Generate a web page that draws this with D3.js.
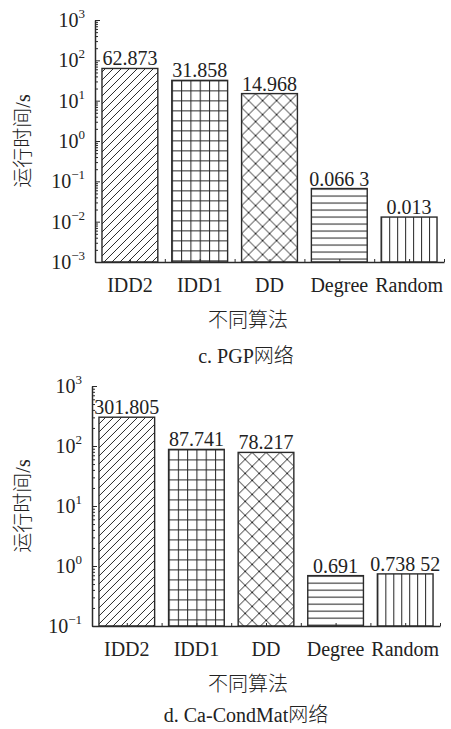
<!DOCTYPE html>
<html>
<head>
<meta charset="utf-8">
<script src="https://cdn.jsdelivr.net/npm/d3@7"></script>
<style>
  html, body { margin: 0; padding: 0; background: #fff; }
  svg { display: block; }
  text { font-family: "Liberation Serif", "Noto Sans CJK SC", serif; fill: #222; }
  text.cjk { font-weight: 300; }
</style>
</head>
<body>
<svg id="chart" width="451" height="729"></svg>
<script>
// ---------- data ----------
const categories = ["IDD2", "IDD1", "DD", "Degree", "Random"];
const pgpValues = [62.873, 31.858, 14.968, 0.0663, 0.013];
const pgpLabels = ["62.873", "31.858", "14.968", "0.066 3", "0.013"];
const caValues = [301.805, 87.741, 78.217, 0.691, 0.73852];
const caLabels = ["301.805", "87.741", "78.217", "0.691", "0.738 52"];
const pgpTickExps = [-3, -2, -1, 0, 1, 2, 3];
const caTickExps = [-1, 0, 1, 2, 3];
const yTitle = "运行时间/s";
const xTitle = "不同算法";
const pgpCaption = "c. PGP网络";
const caCaption = "d. Ca-CondMat网络";

// ---------- drawing ----------
const svg = d3.select("#chart");
const defs = svg.append("defs");
const ink = "#2a2a2a";

function makePatterns(prefix, x, bw, tops) {
  // IDD2: diagonal "/"
  const s = 8;
  let p = defs.append("pattern").attr("id", prefix + "IDD2").attr("patternUnits", "userSpaceOnUse")
    .attr("x", x[0]).attr("y", 0).attr("width", s).attr("height", s);
  p.append("path").attr("d", `M${-s/4},${s/4} L${s/4},${-s/4} M0,${s} L${s},0 M${3*s/4},${5*s/4} L${5*s/4},${3*s/4}`)
    .attr("stroke", ink).attr("stroke-width", 1).attr("fill", "none");
  // IDD1: grid
  const gw = bw / 6, gh = 10;
  p = defs.append("pattern").attr("id", prefix + "IDD1").attr("patternUnits", "userSpaceOnUse")
    .attr("x", x[1]).attr("y", tops[1]).attr("width", gw).attr("height", gh);
  p.append("path").attr("d", `M0.5,0 V${gh} M0,0.5 H${gw}`)
    .attr("stroke", ink).attr("stroke-width", 1.1).attr("fill", "none");
  // DD: crosshatch
  const c = 14;
  p = defs.append("pattern").attr("id", prefix + "DD").attr("patternUnits", "userSpaceOnUse")
    .attr("x", x[2]).attr("y", tops[2]).attr("width", c).attr("height", c);
  p.append("path").attr("d", `M0,0 L${c},${c} M${c},0 L0,${c}`)
    .attr("stroke", ink).attr("stroke-width", 1).attr("fill", "none");
  // Degree: horizontal lines
  const h = 7;
  p = defs.append("pattern").attr("id", prefix + "Degree").attr("patternUnits", "userSpaceOnUse")
    .attr("x", 0).attr("y", tops[3]).attr("width", 10).attr("height", h);
  p.append("path").attr("d", `M0,0.5 H10`).attr("stroke", ink).attr("stroke-width", 1.1);
  // Random: vertical lines
  const v = bw / 7;
  p = defs.append("pattern").attr("id", prefix + "Random").attr("patternUnits", "userSpaceOnUse")
    .attr("x", x[4]).attr("y", 0).attr("width", v).attr("height", 10);
  p.append("path").attr("d", `M0.5,0 V10`).attr("stroke", ink).attr("stroke-width", 1.1);
}

function drawChart(opts) {
  const { prefix, values, labels, tickExps, axisX, xRight, yTop, yBot, caption, capOff } = opts;
  const g = svg.append("g");
  const minExp = d3.min(tickExps), maxExp = d3.max(tickExps);
  const y = d3.scaleLog().domain([Math.pow(10, minExp), Math.pow(10, maxExp)]).range([yBot, yTop]);
  const x = d3.scaleBand().domain(categories).range([axisX, xRight]).paddingInner(0.2).paddingOuter(0.1);
  const bw = x.bandwidth();

  makePatterns(prefix, categories.map(c => x(c)), bw, values.map(v => y(v)));

  // bars
  g.selectAll("rect.bar").data(categories).join("rect")
    .attr("class", "bar")
    .attr("x", d => x(d))
    .attr("y", (d, i) => y(values[i]))
    .attr("width", bw)
    .attr("height", (d, i) => yBot - y(values[i]))
    .attr("fill", d => `url(#${prefix}${d})`)
    .attr("stroke", ink)
    .attr("stroke-width", 1.4);

  // value labels
  g.selectAll("text.val").data(categories).join("text")
    .attr("class", "val")
    .attr("x", d => x(d) + bw / 2)
    .attr("y", (d, i) => y(values[i]) - 3)
    .attr("text-anchor", "middle")
    .attr("font-size", 20)
    .text((d, i) => labels[i]);

  // y axis: minor + major ticks pointing inward
  const allTicks = y.ticks();
  const major = tickExps.map(e => Math.pow(10, e));
  const minor = allTicks.filter(t => !major.some(m => Math.abs(Math.log10(t) - Math.log10(m)) < 1e-9));
  const ax = g.append("g").attr("transform", `translate(${axisX},0)`);
  ax.call(d3.axisRight(y).tickValues(minor).tickSize(3).tickSizeOuter(0).tickFormat(""));
  const ax2 = g.append("g").attr("transform", `translate(${axisX},0)`);
  ax2.call(d3.axisRight(y).tickValues(major).tickSize(5).tickSizeOuter(0).tickFormat(""));
  ax2.select(".domain").remove();
  g.selectAll(".domain").attr("stroke", ink).attr("stroke-width", 1.5);
  g.selectAll(".tick line").attr("stroke", ink).attr("stroke-width", 1);

  // y tick labels with superscripts
  const yl = g.selectAll("text.ytl").data(tickExps).join("text")
    .attr("class", "ytl")
    .attr("x", axisX - 10)
    .attr("y", e => y(Math.pow(10, e)) + 7)
    .attr("text-anchor", "end")
    .attr("font-size", 20);
  yl.append("tspan").text("10");
  yl.append("tspan").attr("dy", -9).attr("font-size", 13).text(e => (e < 0 ? "\u2212" + (-e) : String(e)));

  // x axis
  const xa = g.append("g").attr("transform", `translate(0,${yBot})`);
  const edges = categories.map(c => x(c) - x.step() * x.paddingInner() / 2).slice(1);
  const centers = categories.map(c => x(c) + bw / 2);
  const xt = d3.scaleLinear().domain([axisX, xRight]).range([axisX, xRight]);
  xa.call(d3.axisTop(xt).tickValues(edges.concat(centers, [xRight])).tickSize(3).tickSizeOuter(0).tickFormat(""));
  xa.select(".domain").attr("stroke", ink).attr("stroke-width", 1.5);
  xa.selectAll(".tick line").attr("stroke", ink).attr("stroke-width", 1);

  // x tick labels
  g.selectAll("text.xtl").data(categories).join("text")
    .attr("class", "xtl")
    .attr("x", d => x(d) + bw / 2)
    .attr("y", yBot + 30)
    .attr("text-anchor", "middle")
    .attr("font-size", 20)
    .text(d => d);

  // axis titles
  g.append("text").attr("class", "cjk")
    .attr("transform", `translate(30,${(yTop + yBot) / 2}) rotate(-90)`)
    .attr("text-anchor", "middle")
    .attr("font-size", 20)
    .text(yTitle);
  g.append("text").attr("class", "cjk")
    .attr("x", 248)
    .attr("y", yBot + 65)
    .attr("text-anchor", "middle")
    .attr("font-size", 20)
    .text(xTitle);
  g.append("text").attr("class", "cjk")
    .attr("x", 246)
    .attr("y", yBot + capOff)
    .attr("text-anchor", "middle")
    .attr("font-size", 20)
    .text(caption);
}

drawChart({ prefix: "pgp", values: pgpValues, labels: pgpLabels, tickExps: pgpTickExps,
  axisX: 95, xRight: 444, yTop: 20, yBot: 262, caption: pgpCaption, capOff: 101 });
drawChart({ prefix: "ca", values: caValues, labels: caLabels, tickExps: caTickExps,
  axisX: 92, xRight: 440, yTop: 386, yBot: 626, caption: caCaption, capOff: 96 });
</script>
</body>
</html>
